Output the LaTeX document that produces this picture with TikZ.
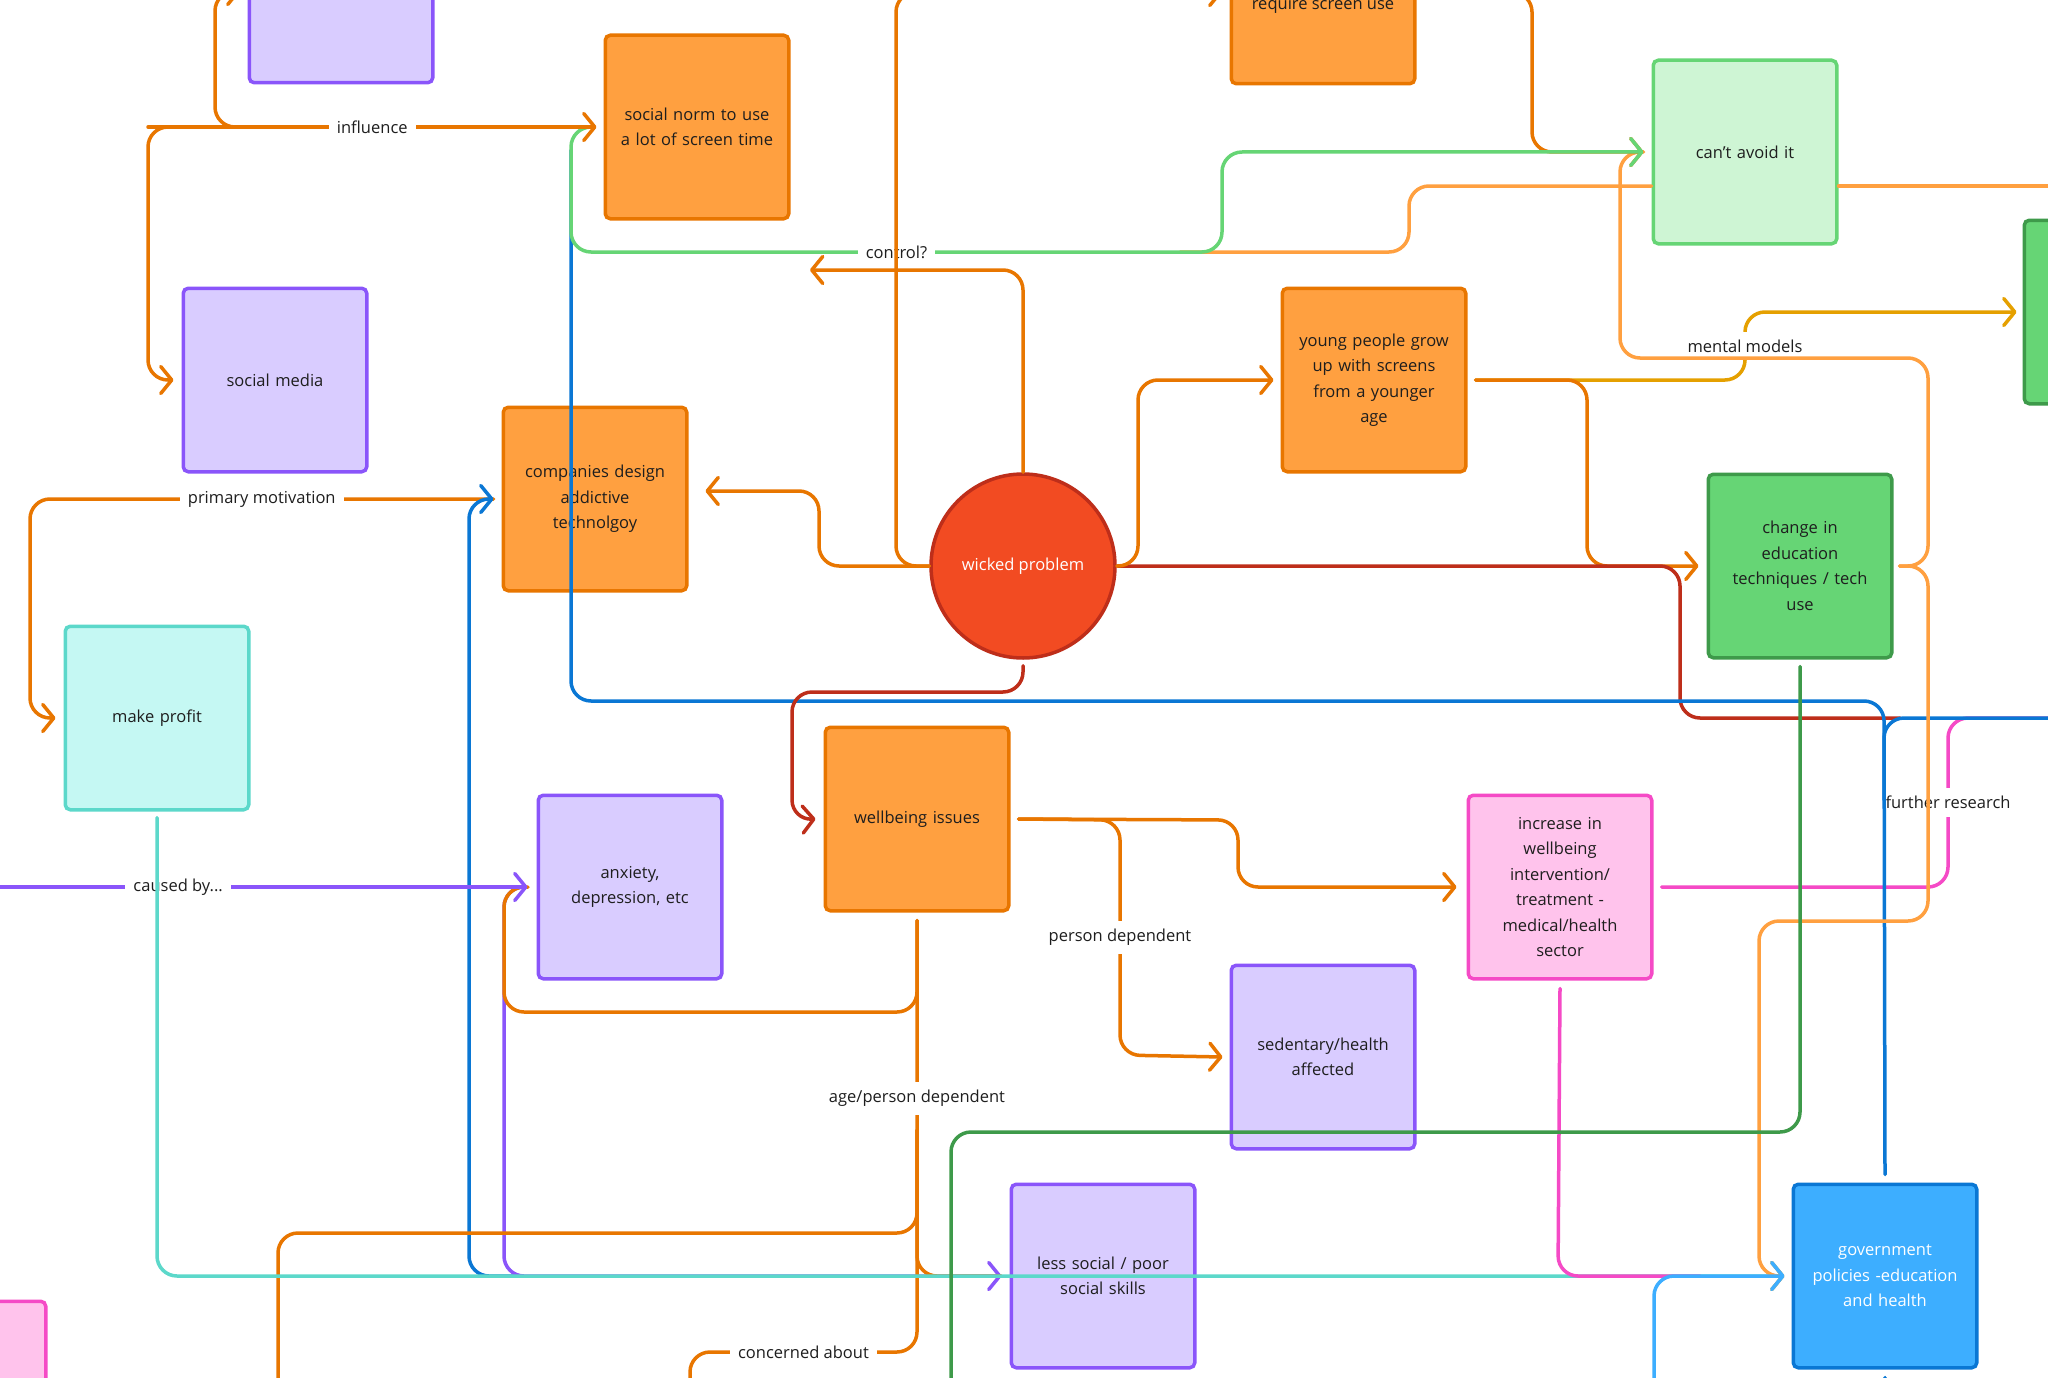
\documentclass[tikz,border=0pt]{standalone}
\usepackage{fontspec}
\setmainfont{Open Sans}
\usetikzlibrary{arrows.meta,calc}
\definecolor{orD}{HTML}{E87600}
\definecolor{orF}{HTML}{FFA040}
\definecolor{puB}{HTML}{8A55FA}
\definecolor{puF}{HTML}{D9CCFF}
\definecolor{teB}{HTML}{5CD8CA}
\definecolor{teF}{HTML}{C5F8F3}
\definecolor{reF}{HTML}{F24B22}
\definecolor{reB}{HTML}{BE2E1A}
\definecolor{gnL}{HTML}{66D575}
\definecolor{gnF}{HTML}{CEF5D4}
\definecolor{gnD}{HTML}{3E9A4A}
\definecolor{blD}{HTML}{0A77D4}
\definecolor{blL}{HTML}{3DAEFF}
\definecolor{pkB}{HTML}{F54AC6}
\definecolor{pkF}{HTML}{FFC3EC}
\definecolor{yeO}{HTML}{E5A000}
\definecolor{txt}{HTML}{1E1E1E}
\begin{document}
\begin{tikzpicture}[x=1pt,y=-1pt,
  box/.style={rectangle,rounded corners=5pt,line width=3.5pt,minimum width=183.5pt,minimum height=183.5pt,text width=172pt,align=center,inner sep=0pt,text=txt,font=\fontsize{16.5}{25.5}\selectfont},
  obox/.style={box,fill=orF,draw=orD},
  pbox/.style={box,fill=puF,draw=puB},
  tbox/.style={box,fill=teF,draw=teB},
  lgbox/.style={box,fill=gnF,draw=gnL},
  dgbox/.style={box,fill=gnL,draw=gnD},
  bbox/.style={box,fill=blL,draw=blD,text=white},
  kbox/.style={box,fill=pkF,draw=pkB},
  conn/.style={line width=3.5pt,rounded corners=20pt,line cap=round,line join=round},
  arr/.style={-{Straight Barb[length=11pt,width=27pt,line width=3.5pt,round]}},
  lab/.style={fill=white,text=txt,inner xsep=8pt,inner ysep=8pt,font=\fontsize{16.5}{20}\selectfont,rounded corners=0pt}]
\useasboundingbox (0,0) rectangle (2048,1378);
\fill[white] (0,0) rectangle (2048,1378);
\clip (0,0) rectangle (2048,1378);

% nodes
\node[pbox] (A) at (341,-9) {};
\node[obox] (B) at (697,127) {social norm to use\\a lot of screen time};
\node[pbox] (C) at (275,380) {social media};
\node[obox] (D) at (595,499) {companies design\\addictive\\technolgoy};
\node[tbox] (E) at (157,718) {make profit};
\node[circle,fill=reF,draw=reB,line width=3.5pt,minimum size=184pt,inner sep=0pt,text=white,font=\fontsize{16.5}{25.5}\selectfont] (F) at (1023,566) {wicked problem};
\node[obox] (G) at (1323,-8) {};
\node[text=txt,font=\fontsize{16.5}{25.5}\selectfont,inner sep=0pt] (Gt) at (1323,5) {require screen use};
\node[lgbox] (H) at (1745,152) {can’t avoid it};
\node[dgbox] (I) at (2116,312) {};
\node[obox] (J) at (1374,380) {young people grow\\up with screens\\from a younger\\age};
\node[dgbox] (K) at (1800,566) {change in\\education\\techniques / tech\\use};
\node[obox] (L) at (917,819) {wellbeing issues};
\node[pbox] (M) at (630,887) {anxiety,\\depression, etc};
\node[kbox] (N) at (1560,887) {increase in\\wellbeing\\intervention/\\treatment -\\medical/health\\sector};
\node[pbox] (O) at (1323,1057) {sedentary/health\\affected};
\node[pbox] (P) at (1103,1276) {less social / poor\\social skills};
\node[bbox] (Q) at (1885,1276) {government\\policies -education\\and health};
\node[kbox] (R) at (-46,1393) {};

% free ends
\coordinate (jE) at ($(J.east)+(8,0)$);
\coordinate (lE) at ($(L.east)+(8,0)$);
\coordinate (hW) at ($(H.west)+(-8,0)$);
\coordinate (qW) at ($(Q.west)+(-7,0)$);
\coordinate (kE) at ($(K.east)+(6,0)$);

% yellow mental models
\draw[conn,yeO,arr] (jE) -- (1745,380) -- node[lab]{mental models} (1745,312) -- ($(I.west)+(-6,0)$);
% J -> K
\draw[conn,orD,arr] (jE) -- (1587,380) -- (1587,566) -- ($(K.west)+(-8,0)$);
% red from F to right
\draw[conn,reB] (F.east) -- (1680,566) -- (1680,718) -- (1900,718);
% light orange through H
\draw[conn,orF] (2048,186) -- (H.east |- 0,186);
\draw[conn,orF] (H.west |- 0,186) -- (1409,186) -- (1409,252) -- (1180,252);
% pink further research
\draw[conn,pkB] ($(N.east)+(8,0)$) -- (1948,887) -- node[lab]{further research} (1948,718) -- (2048,718);
% blue main
\draw[conn,blD] (571,150) -- (571,701) -- (1884,701) -- ($(Q.north)+(0,-8)$);
\draw[conn,blD] (2048,718) -- (1884,718) -- (1884,800);
\draw[conn,blD] ($(Q.south)+(0,8)$) -- (1884,1395);
% light orange H -> K
\draw[conn,orF] (hW) -- (1620,152) -- (1620,358) -- (1928,358) -- (1928,566) -- (kE);
% G -> H
\draw[conn,orD,arr] (G.east) -- (1532,-8) -- (1532,152) -- (hW);
% green control?
\draw[conn,gnL,arr] (591,127) -- (571,127) -- (571,252) -- node[lab]{control?} (1222,252) -- (1222,152) -- (hW);
% F -> G
\draw[conn,orD,arr] (F.west) -- (896,566) -- (896,-8) -- ($(G.west)+(-7,0)$);
% F -> control arrow
\coordinate (ctl) at (810,270);
\draw[conn,orD,arr] (F.north) -- (1023,270) -- (ctl);
% F -> D
\draw[conn,orD,arr] (F.west) -- (819,566) -- (819,491) -- ($(D.east)+(17,-8)$);
% F -> J
\draw[conn,orD,arr] (F.east) -- (1138,566) -- (1138,380) -- ($(J.west)+(-7,0)$);
% influence
\draw[conn,orD,arr] (300,127) -- (148,127) -- (148,380) -- ($(C.west)+(-8,0)$);
\draw[conn,orD,arr] (148,127) -- node[lab]{influence} ($(B.west)+(-7,0)$);
\draw[conn,orD,arr] (260,127) -- (215,127) -- (215,-9) -- ($(A.west)+(-7,0)$);
% primary motivation
\draw[conn,orD,arr] ($(D.west)+(-8,0)$) -- node[lab]{primary motivation} (30,499) -- (30,718) -- ($(E.west)+(-8,0)$);
% blue to D
\draw[conn,blD,arr] (520,1276) -- (469,1276) -- (469,499) -- ($(D.west)+(-8,0)$);
% red F -> L
\draw[conn,reB,arr] ($(F.south)+(0,6)$) -- (1023,692) -- (792,692) -- (792,820) -- ($(L.west)+(-8,0)$);
% L -> O, L -> N
\draw[conn,orD,arr] (lE) -- (1120,820) -- node[lab]{person dependent} (1120,1055) -- ($(O.west)+(-7,0)$);
\draw[conn,orD,arr] (lE) -- (1238,820) -- (1238,887) -- ($(N.west)+(-10,0)$);
% purple M -> P
\draw[conn,puB,arr] (524,887) -- (504,887) -- (504,1276) -- ($(P.west)+(-8,0)$);
% orange L -> M
\draw[conn,orD] ($(L.south)+(0,8)$) -- (917,1012) -- (504,1012) -- (504,887) -- (528,887);
% caused by
\draw[conn,puB,arr] (-10,887) -- node[lab,pos=0.35]{caused by...} ($(M.west)+(-9,0)$);
% orange from L downwards
\draw[conn,orD] ($(L.south)+(0,8)$) -- node[lab]{age/person dependent} (917,1276) -- ($(P.west)+(-8,0)$);
\draw[conn,orD] (917,1130) -- (917,1233) -- (278,1233) -- (278,1395);
\draw[conn,orD] (917,1130) -- (917,1352) -- node[lab]{concerned about} (690,1352) -- (690,1395);
% teal make profit -> Q
\draw[conn,teB,arr] ($(E.south)+(0,6)$) -- (157,1276) -- (qW);
% pink N -> Q
\draw[conn,pkB] ($(N.south)+(0,8)$) -- (1558,1276) -- (1700,1276);
% light orange K -> Q
\draw[conn,orF,arr] (kE) -- (1928,566) -- (1928,921) -- (1759,921) -- (1759,1276) -- (qW);
% light blue -> Q
\draw[conn,blL,arr] (1654,1395) -- (1654,1276) -- (qW);
% dark green from K
\draw[conn,gnD] ($(K.south)+(0,7)$) -- (1800,1132) -- (951,1132) -- (951,1395);
\end{tikzpicture}
\end{document}
